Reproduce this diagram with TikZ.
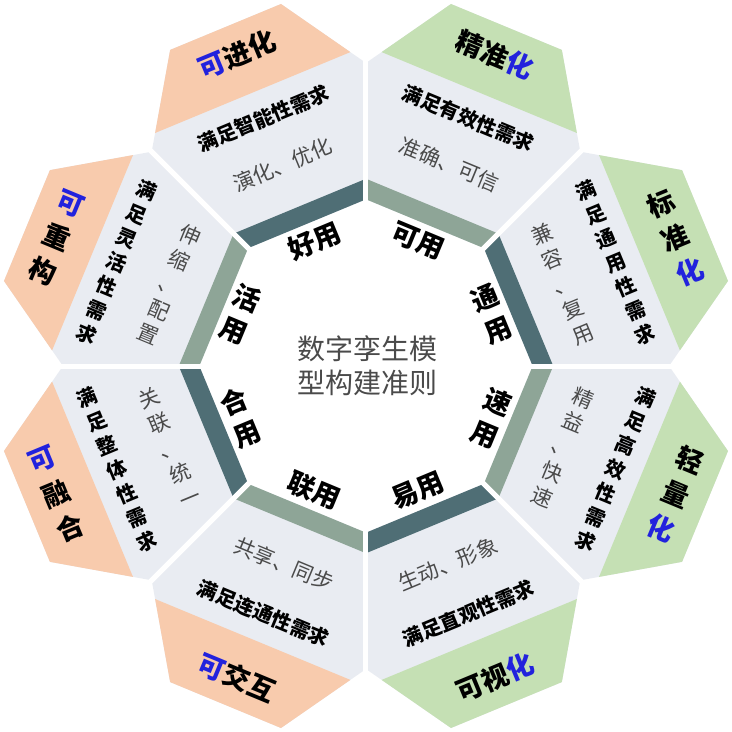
\documentclass[tikz,border=0pt]{standalone}
\usepackage{fontspec}
\setmainfont{Noto Sans CJK SC}
\definecolor{pgray}{HTML}{E9ECF2}
\definecolor{porange}{HTML}{F8CBAD}
\definecolor{pgreen}{HTML}{C5E0B4}
\definecolor{bdark}{HTML}{4F6E75}
\definecolor{blight}{HTML}{8EA597}
\definecolor{tblue}{HTML}{2222DD}
\definecolor{tgray}{HTML}{4A4A4A}
\tikzset{
  barlab/.style={font=\fontsize{27}{35}\selectfont\bfseries, align=center, inner sep=0pt},
  req/.style={font=\fontsize{20}{26}\selectfont\bfseries, align=center, inner sep=0pt},
  desc/.style={font=\fontsize{21}{27}\selectfont, text=tgray, align=center, inner sep=0pt},
  ttl/.style={font=\fontsize{27}{37}\selectfont\bfseries, align=center, inner sep=0pt},
  ctr/.style={font=\fontsize{28}{34}\selectfont, text=tgray, align=center, inner sep=0pt},
  gapline/.style={white, line width=5pt}
}
\newcommand{\bl}[1]{\textcolor{tblue}{#1}}
\begin{document}
\begin{tikzpicture}[x=1pt,y=1pt]
\useasboundingbox (-366,-366) rectangle (366,366);
\foreach \t/\bc/\oc in {112.5/bdark/porange, 67.5/blight/pgreen, 22.5/bdark/pgreen, -22.5/blight/pgreen, -67.5/bdark/pgreen, -112.5/blight/porange, -157.5/bdark/porange, 157.5/blight/porange} {
  \begin{scope}[rotate=\t]
    \fill[pgray] (154,-63.79) -- (280,-115.98) -- (367,-60) -- (367,60) -- (280,115.98) -- (154,63.79) -- cycle;
    \fill[\oc] (296,-105.7) -- (367,-60) -- (367,60) -- (296,105.7) -- cycle;
    \fill[\bc] (154,-63.79) -- (173,-71.66) -- (173,71.66) -- (154,63.79) -- cycle;
  \end{scope}
}
\foreach \a in {0,45,...,315} {
  \draw[gapline] (\a:145) -- (\a:320);
}
% centre
\node[ctr] (center) at (2,0) {数字孪生模\\型构建准则};
% sector 1: top-left
\node[barlab, rotate=22.5] (l1) at (112.5:135) {好用};
\node[desc, rotate=22.5] (d1) at (112.5:218) {演化、优化};
\node[req, rotate=22.5] (r1) at (112.5:268) {满足智能性需求};
\node[ttl, rotate=22.5] (t1) at (112.5:337) {\bl{可}进化};
% sector 2: top-right
\node[barlab, rotate=-22.5] (l2) at (67.5:135) {可用};
\node[desc, rotate=-22.5] (d2) at (67.5:218) {准确、可信};
\node[req, rotate=-22.5] (r2) at (67.5:268) {满足有效性需求};
\node[ttl, rotate=-22.5] (t2) at (67.5:337) {精准\bl{化}};
% sector 3: right-upper
\node[barlab, rotate=22.5] (l3) at (22.5:136) {通\\用};
\node[desc, rotate=22.5] (d3) at (22.5:213) {兼\\容\\、\\复\\用};
\node[req, rotate=22.5] (r3) at (22.5:270) {满\\足\\通\\用\\性\\需\\求};
\node[ttl, rotate=22.5] (t3) at (22.5:335) {标\\准\\\bl{化}};
% sector 4: right-lower
\node[barlab, rotate=-22.5] (l4) at (-22.5:136) {速\\用};
\node[desc, rotate=-22.5] (d4) at (-22.5:213) {精\\益\\、\\快\\速};
\node[req, rotate=-22.5] (r4) at (-22.5:270) {满\\足\\高\\效\\性\\需\\求};
\node[ttl, rotate=-22.5] (t4) at (-22.5:335) {轻\\量\\\bl{化}};
% sector 5: bottom-right
\node[barlab, rotate=22.5] (l5) at (-67.5:135) {易用};
\node[desc, rotate=22.5] (d5) at (-67.5:214) {生动、形象};
\node[req, rotate=22.5] (r5) at (-67.5:268) {满足直观性需求};
\node[ttl, rotate=22.5] (t5) at (-67.5:337) {可视\bl{化}};
% sector 6: bottom-left
\node[barlab, rotate=-22.5] (l6) at (-112.5:135) {联用};
\node[desc, rotate=-22.5] (d6) at (-112.5:214) {共享、同步};
\node[req, rotate=-22.5] (r6) at (-112.5:268) {满足连通性需求};
\node[ttl, rotate=-22.5] (t6) at (-112.5:337) {\bl{可}交互};
% sector 7: left-lower
\node[barlab, rotate=22.5] (l7) at (-157.5:136) {合\\用};
\node[desc, rotate=22.5] (d7) at (-157.5:213) {关\\联\\、\\统\\一};
\node[req, rotate=22.5] (r7) at (-157.5:270) {满\\足\\整\\体\\性\\需\\求};
\node[ttl, rotate=22.5] (t7) at (-157.5:335) {\bl{可}\\融\\合};
% sector 8: left-upper
\node[barlab, rotate=-22.5] (l8) at (157.5:136) {活\\用};
\node[desc, rotate=-22.5] (d8) at (157.5:213) {伸\\缩\\、\\配\\置};
\node[req, rotate=-22.5] (r8) at (157.5:270) {满\\足\\灵\\活\\性\\需\\求};
\node[ttl, rotate=-22.5] (t8) at (157.5:335) {\bl{可}\\重\\构};
\end{tikzpicture}
\end{document}
